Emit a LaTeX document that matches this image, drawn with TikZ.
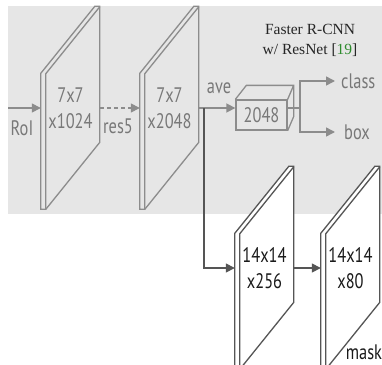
\documentclass[tikz,border=0pt]{standalone}
\usepackage{fontspec}
\setmainfont{Liberation Serif}
\newfontfamily\labelfont[FakeStretch=0.78]{PT Sans}
\usetikzlibrary{arrows.meta, positioning, calc, backgrounds}
\pgfdeclarelayer{panel}
\pgfsetlayers{panel,background,main}
\definecolor{panelgray}{HTML}{E6E6E6}
\definecolor{headline}{HTML}{8C8C8C}
\definecolor{headtext}{HTML}{787878}
\definecolor{maskline}{HTML}{555555}
\definecolor{masktext}{HTML}{1A1A1A}
\definecolor{citegreen}{HTML}{2E8B2E}

% thin slanted slab behind a plane node
\newcommand{\slab}[2]{%
  \draw[#2] ($(#1.north west)+(0,67)$) -- ++(54,-67) -- ++(5,0) -- ++(0,136)
    -- ++(-54,67) -- ++(-5,0) -- cycle;
  \draw[#2, fill=none] ($(#1.south west)+(5,0)$) -- ++(0,-136) -- ++(54,-67);}

\begin{document}
\begin{tikzpicture}[x=1pt, y=-1pt,
    lbl/.style={font=\labelfont\fontsize{21}{26}\selectfont, inner sep=0pt},
    plane/.style={lbl, minimum width=59pt, minimum height=203pt, align=center},
    outlbl/.style={lbl, text=headtext, anchor=west, inner xsep=6pt},
    headslab/.style={draw=headline, fill=panelgray, line width=1.3pt, line join=miter},
    maskslab/.style={draw=maskline, fill=white, line width=1.3pt, line join=miter},
    headarr/.style={-{Triangle[length=9pt, width=9pt]}, draw=headline, line width=1.5pt},
    maskarr/.style={-{Triangle[length=9pt, width=9pt]}, draw=maskline, line width=1.5pt}]
  \useasboundingbox (0,0) rectangle (382,364);
  \begin{pgfonlayer}{panel}
    \fill[panelgray] (8,6) rectangle (382,214);
  \end{pgfonlayer}

  % Faster R-CNN head
  \coordinate (roi) at (8,108);
  \node[plane, text=headtext] (c4) at (70.5,108) {7x7\\x1024};
  \node[plane, text=headtext] (c5) at (169.5,108) {7x7\\x2048};
  \node[lbl, text=headtext] (roilbl) at (22,128) {RoI};
  \node[lbl, text=headtext] (res5) at (118,126) {res5};
  \node[lbl, text=headtext] (ave) at (219,88) {ave};
  \node[lbl, text=headtext, draw=headline, line width=1.3pt, fill=panelgray,
        minimum width=51pt, minimum height=30pt] (vec) at (261.5,115) {2048};
  \draw[headline, line width=1.3pt, line join=miter]
    (vec.north west) -- ++(11,-14) -- ($(vec.north east)+(6,-14)$)
    -- ($(vec.south east)+(6,-14)$) -- (vec.south east)
    (vec.north east) -- ++(6,-14);
  \coordinate (split) at (300,108);
  \coordinate (fork) at (204,108);
  \node[outlbl] (cls) at (335,81) {class};
  \node[outlbl] (box) at (335,132) {\hspace{3pt}box};
  \node[align=center, font=\fontsize{15.5}{20}\selectfont, text=black!85] (title)
    at (310,40) {Faster R-CNN\\w/ ResNet [{\color{citegreen}19}]};

  % Mask branch
  \node[plane, text=masktext] (m1) at (264.5,268) {14x14\\x256};
  \node[plane, text=masktext] (m2) at (350.5,268) {14x14\\x80};
  \node[lbl, text=masktext] (mask) at (364,352) {mask};

  \begin{scope}[on background layer]
    \slab{c4}{headslab}
    \slab{c5}{headslab}
    \slab{m1}{maskslab}
    \slab{m2}{maskslab}
  \end{scope}

  % Arrows
  \draw[headarr] (roi) -- (roi -| c4.west);
  \draw[headarr, dash pattern=on 4pt off 3pt] (roi -| c4.east) -- (roi -| c5.west);
  \draw[headarr] (roi -| c5.east) -- (roi -| vec.west);
  \draw[headline, line width=1.5pt] (roi -| vec.east) -- (split);
  \draw[headarr] (split) |- (cls.west);
  \draw[headarr] (split) |- (box.west);
  \draw[maskarr] (fork) |- (m1.west);
  \draw[maskarr] (m1.east) -- (m2.west);
\end{tikzpicture}
\end{document}
